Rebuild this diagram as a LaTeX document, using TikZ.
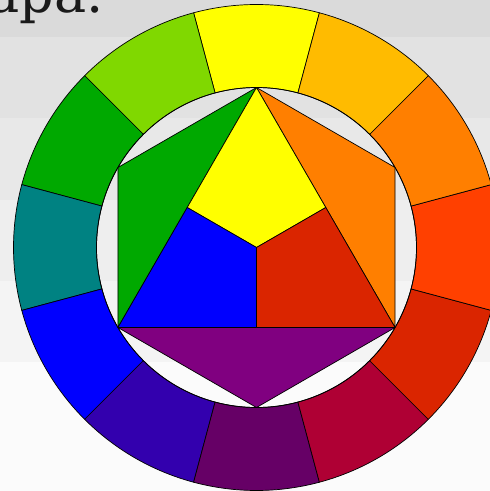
\documentclass[tikz,border=0pt]{standalone}
\usepackage{fontspec}
\setmainfont{DejaVu Serif}
\usetikzlibrary{calc}
\definecolor{bandA}{HTML}{DADADA}
\definecolor{bandB}{HTML}{E2E2E2}
\definecolor{bandC}{HTML}{E8E8E8}
\definecolor{bandD}{HTML}{EEEEEE}
\definecolor{bandE}{HTML}{F4F4F4}
\definecolor{bandF}{HTML}{FBFBFB}
\definecolor{cYellow}{HTML}{FFFF00}
\definecolor{cYellowGreen}{HTML}{80D800}
\definecolor{cGreen}{HTML}{00A900}
\definecolor{cTeal}{HTML}{008282}
\definecolor{cBlue}{HTML}{0000FF}
\definecolor{cIndigo}{HTML}{3300AE}
\definecolor{cDarkPurple}{HTML}{660066}
\definecolor{cCrimson}{HTML}{AF0034}
\definecolor{cRed}{HTML}{DA2500}
\definecolor{cRedOrange}{HTML}{FF4000}
\definecolor{cOrange}{HTML}{FF7F00}
\definecolor{cAmber}{HTML}{FFBB00}
\definecolor{cPurple}{HTML}{800080}
\definecolor{txt}{HTML}{1A1A1A}
\begin{document}
\begin{tikzpicture}[x=1pt,y=1pt,
  outline/.style={draw=black,line width=0.7pt,line join=round},
  seg/.style={outline}]
\useasboundingbox (-256.5,-243.5) rectangle (233.5,247.5);
\clip (-256.5,-243.5) rectangle (233.5,247.5);
% background bands
\fill[bandA] (-256.5,210.5) rectangle (233.5,247.5);
\fill[bandB] (-256.5,129.5) rectangle (233.5,210.5);
\fill[bandC] (-256.5,47.5) rectangle (233.5,129.5);
\fill[bandD] (-256.5,-33.5) rectangle (233.5,47.5);
\fill[bandE] (-256.5,-114.5) rectangle (233.5,-33.5);
\fill[bandF] (-256.5,-243.5) rectangle (233.5,-114.5);
% title fragment
\node[anchor=base east, inner sep=0pt, text=txt, font=\fontsize{54}{60}\selectfont] (title) at (-152.5,235) {ара.};
% outer ring
\def\Ro{243}
\def\Ri{160}
\foreach \c/\col in {90/cYellow,120/cYellowGreen,150/cGreen,180/cTeal,210/cBlue,240/cIndigo,270/cDarkPurple,300/cCrimson,330/cRed,360/cRedOrange,30/cOrange,60/cAmber}{
  \pgfmathsetmacro{\a}{\c-15}
  \pgfmathsetmacro{\b}{\c+15}
  \filldraw[seg, fill=\col] (\a:\Ro) arc[start angle=\a, end angle=\b, radius=\Ro] -- (\b:\Ri) arc[start angle=\b, end angle=\a, radius=\Ri] -- cycle;
}
% inner circle outline
\draw[outline] (0,0) circle[radius=\Ri];
% hexagon vertices and triangle points
\coordinate (T) at (90:160);
\coordinate (UL) at (150:160);
\coordinate (L) at (210:160);
\coordinate (B) at (270:160);
\coordinate (R) at (330:160);
\coordinate (UR) at (30:160);
\coordinate (C) at (0,0);
\coordinate (MTL) at ($(T)!0.5!(L)$);
\coordinate (MTR) at ($(T)!0.5!(R)$);
\coordinate (MLR) at ($(L)!0.5!(R)$);
% secondary triangles
\filldraw[outline, fill=cGreen] (T) -- (UL) -- (L) -- cycle;
\filldraw[outline, fill=cOrange] (T) -- (UR) -- (R) -- cycle;
\filldraw[outline, fill=cPurple] (L) -- (B) -- (R) -- cycle;
% primary parts
\filldraw[outline, fill=cYellow] (T) -- (MTL) -- (C) -- (MTR) -- cycle;
\filldraw[outline, fill=cBlue] (MTL) -- (L) -- (MLR) -- (C) -- cycle;
\filldraw[outline, fill=cRed] (C) -- (MLR) -- (R) -- (MTR) -- cycle;
\end{tikzpicture}
\end{document}
